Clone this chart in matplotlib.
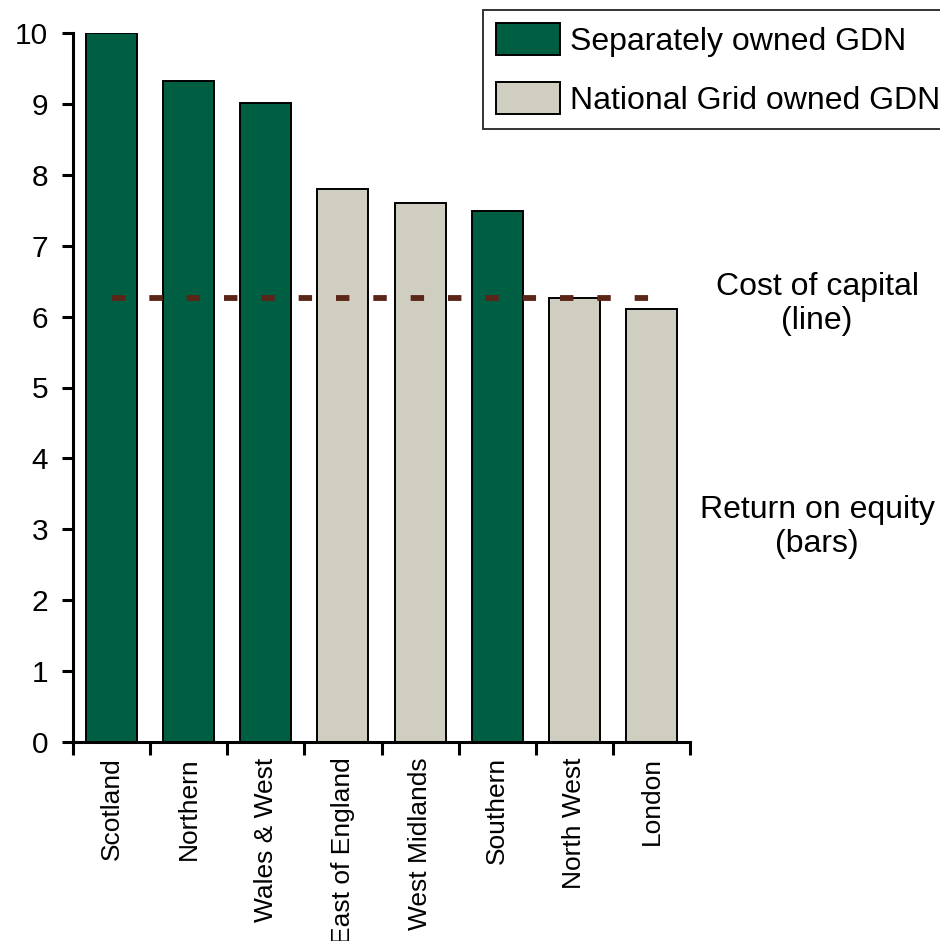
import matplotlib
matplotlib.use("Agg")
import matplotlib.pyplot as plt
from matplotlib.patches import Patch

plt.rcParams["font.family"] = ["Liberation Sans", "DejaVu Sans"]

# Return on equity by gas distribution network
regions = ["Scotland", "Northern", "Wales & West", "East of England",
           "West Midlands", "Southern", "North West", "London"]
return_on_equity = [10.0, 9.32, 9.01, 7.80, 7.60, 7.49, 6.26, 6.11]
separately_owned = [True, True, True, False, False, True, False, False]
cost_of_capital = 6.26

GREEN = "#005e43"
GREY = "#cfcec1"
LINE = "#5b2617"

fig = plt.figure(figsize=(9.4, 9.41), dpi=100)
ax = fig.add_axes([73 / 940, 1 - 742 / 941, 617 / 940, 709 / 941])

x = list(range(len(regions)))
colors = [GREEN if s else GREY for s in separately_owned]
ax.bar(x, return_on_equity, width=0.66, color=colors, edgecolor="black", linewidth=1.4, zorder=2)

ax.plot([x[0], x[-1]], [cost_of_capital, cost_of_capital], color=LINE, linewidth=4.2,
        dashes=(2.3, 4.1), solid_capstyle="butt", dash_capstyle="butt", zorder=3)

ax.set_xlim(-0.5, len(regions) - 0.5)
ax.set_ylim(0, 10)
ax.set_yticks(range(0, 11))
ax.tick_params(axis="y", labelsize=21.5, length=8, width=2.2, direction="out", pad=10)

# category ticks sit on the boundaries between bars
ax.set_xticks([i - 0.5 for i in range(len(regions) + 1)])
ax.set_xticklabels([])
ax.set_xticks(x, minor=True)
ax.set_xticklabels(regions, minor=True, rotation=90, fontsize=19, va="top", ha="center")
ax.tick_params(axis="x", which="major", length=9, width=2.2, direction="out")
ax.tick_params(axis="x", which="minor", length=0, pad=11)

for side in ["top", "right"]:
    ax.spines[side].set_visible(False)
for side in ["left", "bottom"]:
    ax.spines[side].set_linewidth(2.2)

handles = [Patch(facecolor=GREEN, edgecolor="black", linewidth=1.4),
           Patch(facecolor=GREY, edgecolor="black", linewidth=1.4)]
leg = fig.legend(handles, ["Separately owned GDN", "National Grid owned GDN"],
                 loc="upper left", bbox_to_anchor=(483 / 940, 1 - 10 / 941), borderaxespad=0,
                 fontsize=23, frameon=True, fancybox=False, handlelength=2.0, handleheight=1.16,
                 labelspacing=0.8, handletextpad=0.31, borderpad=0.4)
leg.get_frame().set_edgecolor("black")
leg.get_frame().set_linewidth(1.4)

fig.text(817 / 940, 1 - 304 / 941, "Cost of capital\n(line)", ha="center", va="center",
         fontsize=23, linespacing=1.2)
fig.text(817 / 940, 1 - 527 / 941, "Return on equity\n(bars)", ha="center", va="center",
         fontsize=23, linespacing=1.2)

fig.savefig("out.png", dpi=100)
